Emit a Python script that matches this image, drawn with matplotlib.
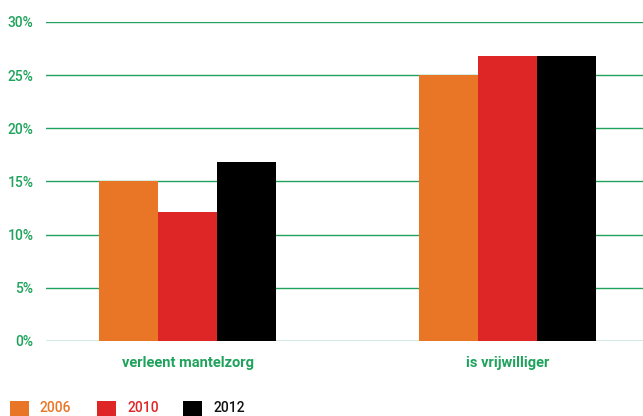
import matplotlib
matplotlib.use("Agg")
import matplotlib.pyplot as plt
from matplotlib.patches import Rectangle
import numpy as np

categories = ["verleent mantelzorg", "is vrijwilliger"]
years = ["2006", "2010", "2012"]
values_2006 = [15.0, 25.0]
values_2010 = [12.1, 26.8]
values_2012 = [16.8, 26.8]
yticks = [0, 5, 10, 15, 20, 25, 30]
ytick_labels = ["0%", "5%", "10%", "15%", "20%", "25%", "30%"]

colors = ["#e97626", "#df2626", "#000000"]
green = "#1fa35c"

plt.rcParams['font.family'] = ['Roboto', 'DejaVu Sans']

W, H = 643, 416
fig = plt.figure(figsize=(W / 100, H / 100), dpi=100)
ax = fig.add_axes([46 / W, 1 - 341 / H, 1 - 46 / W, (341 - 22) / H])

x = np.arange(len(categories))
bw = 59 / 320
series = [values_2006, values_2010, values_2012]
for i, (vals, c) in enumerate(zip(series, colors)):
    ax.bar(x + (i - 1) * bw, vals, width=bw, color=c, zorder=3, linewidth=0)

ax.set_ylim(0, 30)
ax.set_xlim(-(187.5 - 46) / 320, 1 + (643 - 507.5) / 320)
ax.set_yticks(yticks)
ax.set_yticklabels(ytick_labels, color=green, fontsize=10, fontweight='medium')
ax.tick_params(axis='y', length=0, pad=9)
ax.set_xticks(x)
ax.set_xticklabels(categories, color=green, fontsize=10.5, fontweight='bold')
ax.tick_params(axis='x', length=0, pad=11)
ax.grid(axis='y', color=green, linewidth=1.0, zorder=0)
for s in ax.spines.values():
    s.set_visible(False)

# legend
leg_x = [10, 97, 183]
for xp, c, lab in zip(leg_x, colors, years):
    fig.add_artist(Rectangle((xp / W, 0), 19 / W, 15 / H, transform=fig.transFigure,
                             color=c, linewidth=0))
    fig.text((xp + 30) / W, 1 / H, lab, color=c if c != "#000000" else "#111111",
             fontsize=10, fontweight='medium', ha='left', va='bottom')

fig.savefig("out.png", dpi=100)
